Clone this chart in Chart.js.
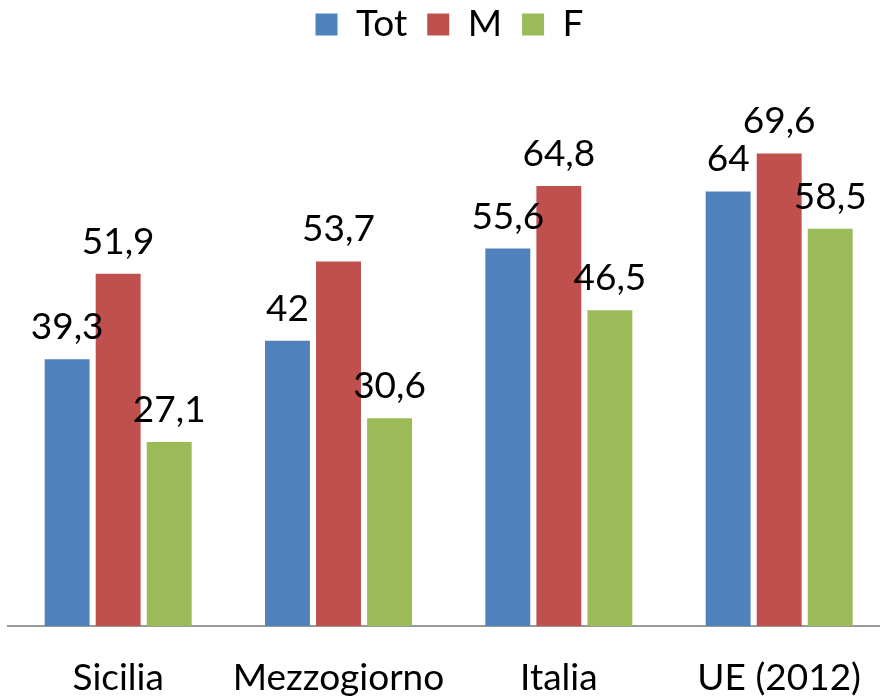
<!DOCTYPE html>
<html>
<head>
<meta charset="utf-8">
<script src="https://cdn.jsdelivr.net/npm/chart.js@4"></script>
<style>
  html, body { margin: 0; padding: 0; background: #fff; overflow: hidden; }
  #wrap { width: 891px; height: 697px; }
</style>
</head>
<body>
<div id="wrap"><canvas id="bar-chart" width="891" height="697"></canvas></div>
<script>
// DATI
const categorie = ["Sicilia", "Mezzogiorno", "Italia", "UE (2012)"];
const serieTot = [39.3, 42, 55.6, 64];
const serieM = [51.9, 53.7, 64.8, 69.6];
const serieF = [27.1, 30.6, 46.5, 58.5];

const FONT = "Lato, 'Open Sans', sans-serif";

// etichette sopra le barre
const etichette = {
  id: "etichette",
  afterDatasetsDraw(chart) {
    const ctx = chart.ctx;
    ctx.save();
    ctx.font = "37px " + FONT;
    ctx.fillStyle = "#000";
    ctx.textAlign = "center";
    ctx.textBaseline = "alphabetic";
    chart.data.datasets.forEach((ds, i) => {
      chart.getDatasetMeta(i).data.forEach((bar, j) => {
        const testo = String(ds.data[j]).replace(".", ",");
        ctx.fillText(testo, bar.x, bar.y - 20);
      });
    });
    ctx.restore();
  }
};

const contenedor = document.querySelector("#bar-chart").getContext("2d");

const barChart = new Chart(contenedor, {
  type: "bar",
  data: {
    labels: categorie,
    datasets: [
      { label: "Tot", data: serieTot, backgroundColor: "#4F81BD" },
      { label: "M", data: serieM, backgroundColor: "#C0504D" },
      { label: "F", data: serieF, backgroundColor: "#9BBB59" },
    ],
  },
  options: {
    responsive: false,
    animation: false,
    categoryPercentage: 0.695,
    barPercentage: 0.88,
    layout: { padding: { left: 8, right: 0, top: -14, bottom: 0 } },
    plugins: {
      tooltip: { enabled: false },
      legend: {
        position: "top",
        labels: {
          font: { family: FONT, size: 37 },
          color: "#000",
          boxWidth: 22,
          boxHeight: 22,
          padding: 20,
        },
      },
    },
    scales: {
      x: {
        grid: { display: false, drawTicks: false },
        border: { display: true, color: "#999", width: 2 },
        ticks: { font: { family: FONT, size: 37 }, color: "#000", padding: 30 },
        afterFit(scale) { scale.height = 71; },
      },
      y: {
        display: false,
        min: 0,
        max: 84.4,
      },
    },
  },
  plugins: [etichette],
});
</script>
</body>
</html>
